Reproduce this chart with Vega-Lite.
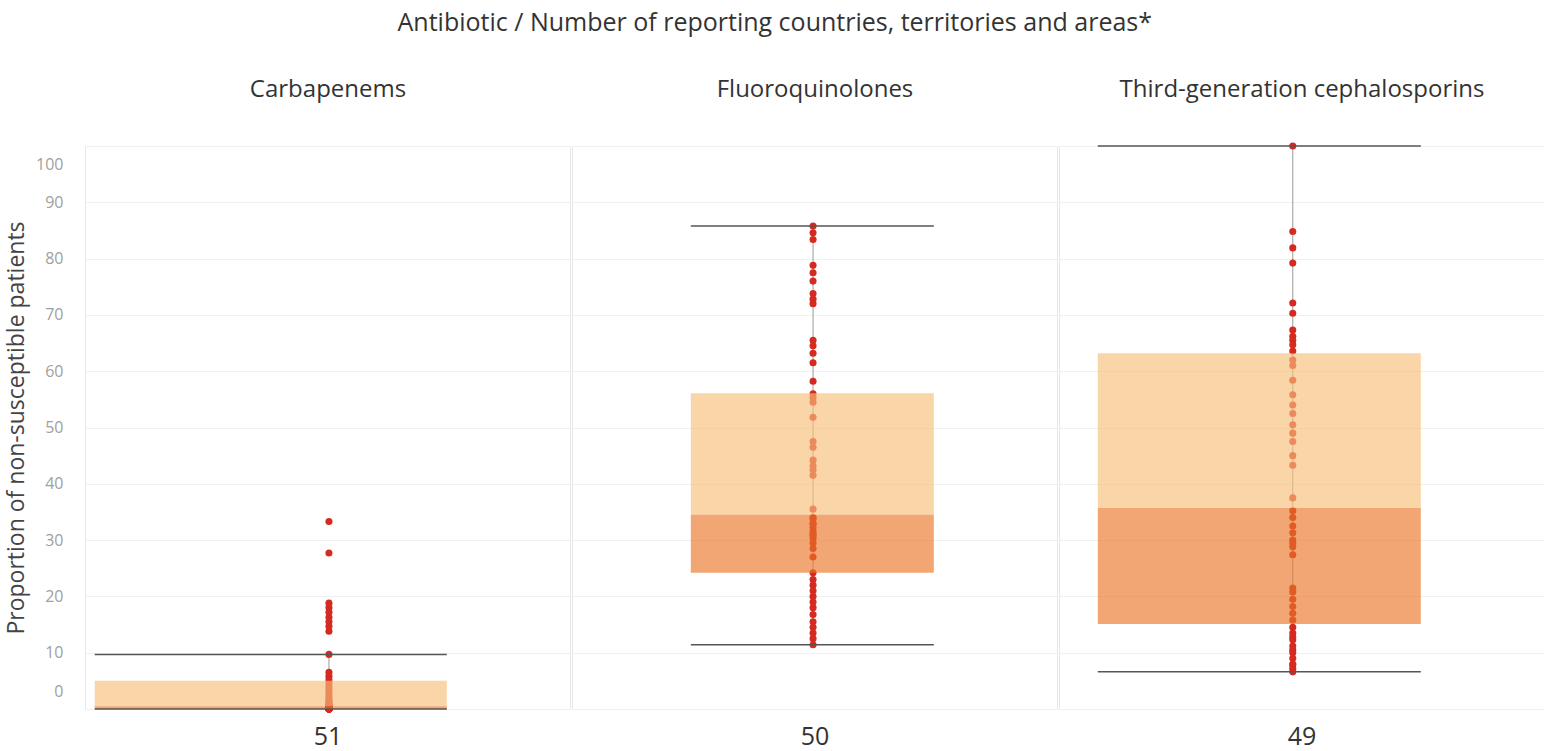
{
  "$schema": "https://vega.github.io/schema/vega-lite/v6.json",
  "background": "white",
  "padding": {"left": 5, "top": 10, "right": 0, "bottom": 0},
  "title": {"text": "Antibiotic / Number of reporting countries, territories and areas*", "fontSize": 25, "font": "Open Sans", "fontWeight": "normal", "color": "#333333", "anchor": "middle", "offset": 41},
  "spacing": 0,
  "config": {"view": {"stroke": "#e8e8e8"}, "font": "Open Sans"},
  "datasets": {
    "stats": [
      {"antibiotic": "Carbapenems", "lower": 0, "q1": 0, "median": 0.5, "q3": 5.0, "upper": 9.7},
      {"antibiotic": "Fluoroquinolones", "lower": 11.4, "q1": 24.2, "median": 34.5, "q3": 56.1, "upper": 85.8},
      {"antibiotic": "Third-generation cephalosporins", "lower": 6.6, "q1": 15.1, "median": 35.7, "q3": 63.2, "upper": 100}
    ],
    "points": [
      {"antibiotic": "Carbapenems", "value": 33.3}, {"antibiotic": "Carbapenems", "value": 27.7}, {"antibiotic": "Carbapenems", "value": 18.8}, {"antibiotic": "Carbapenems", "value": 18}, {"antibiotic": "Carbapenems", "value": 17.2}, {"antibiotic": "Carbapenems", "value": 16.3}, {"antibiotic": "Carbapenems", "value": 15.5}, {"antibiotic": "Carbapenems", "value": 14.7}, {"antibiotic": "Carbapenems", "value": 13.8}, {"antibiotic": "Carbapenems", "value": 9.7}, {"antibiotic": "Carbapenems", "value": 6.5}, {"antibiotic": "Carbapenems", "value": 5.8}, {"antibiotic": "Carbapenems", "value": 5.2}, {"antibiotic": "Carbapenems", "value": 4.6}, {"antibiotic": "Carbapenems", "value": 4}, {"antibiotic": "Carbapenems", "value": 3.5}, {"antibiotic": "Carbapenems", "value": 3}, {"antibiotic": "Carbapenems", "value": 2.5}, {"antibiotic": "Carbapenems", "value": 2}, {"antibiotic": "Carbapenems", "value": 1.6}, {"antibiotic": "Carbapenems", "value": 1.3}, {"antibiotic": "Carbapenems", "value": 1}, {"antibiotic": "Carbapenems", "value": 0.9}, {"antibiotic": "Carbapenems", "value": 0.8}, {"antibiotic": "Carbapenems", "value": 0.7}, {"antibiotic": "Carbapenems", "value": 0.6}, {"antibiotic": "Carbapenems", "value": 0.5}, {"antibiotic": "Carbapenems", "value": 0.4}, {"antibiotic": "Carbapenems", "value": 0.4}, {"antibiotic": "Carbapenems", "value": 0.3}, {"antibiotic": "Carbapenems", "value": 0.3}, {"antibiotic": "Carbapenems", "value": 0.3}, {"antibiotic": "Carbapenems", "value": 0.2}, {"antibiotic": "Carbapenems", "value": 0.2}, {"antibiotic": "Carbapenems", "value": 0.2}, {"antibiotic": "Carbapenems", "value": 0.2}, {"antibiotic": "Carbapenems", "value": 0.1}, {"antibiotic": "Carbapenems", "value": 0.1}, {"antibiotic": "Carbapenems", "value": 0.1}, {"antibiotic": "Carbapenems", "value": 0.1}, {"antibiotic": "Carbapenems", "value": 0.1}, {"antibiotic": "Carbapenems", "value": 0}, {"antibiotic": "Carbapenems", "value": 0}, {"antibiotic": "Carbapenems", "value": 0}, {"antibiotic": "Carbapenems", "value": 0}, {"antibiotic": "Carbapenems", "value": 0}, {"antibiotic": "Carbapenems", "value": 0}, {"antibiotic": "Carbapenems", "value": 0}, {"antibiotic": "Carbapenems", "value": 0}, {"antibiotic": "Carbapenems", "value": 0}, {"antibiotic": "Carbapenems", "value": 0},
      {"antibiotic": "Fluoroquinolones", "value": 85.8}, {"antibiotic": "Fluoroquinolones", "value": 84.6}, {"antibiotic": "Fluoroquinolones", "value": 83.4}, {"antibiotic": "Fluoroquinolones", "value": 78.8}, {"antibiotic": "Fluoroquinolones", "value": 77.5}, {"antibiotic": "Fluoroquinolones", "value": 76}, {"antibiotic": "Fluoroquinolones", "value": 73.8}, {"antibiotic": "Fluoroquinolones", "value": 72.8}, {"antibiotic": "Fluoroquinolones", "value": 72}, {"antibiotic": "Fluoroquinolones", "value": 65.5}, {"antibiotic": "Fluoroquinolones", "value": 64.5}, {"antibiotic": "Fluoroquinolones", "value": 63.2}, {"antibiotic": "Fluoroquinolones", "value": 61.5}, {"antibiotic": "Fluoroquinolones", "value": 58.2}, {"antibiotic": "Fluoroquinolones", "value": 56}, {"antibiotic": "Fluoroquinolones", "value": 55.3}, {"antibiotic": "Fluoroquinolones", "value": 54.5}, {"antibiotic": "Fluoroquinolones", "value": 51.8}, {"antibiotic": "Fluoroquinolones", "value": 47.5}, {"antibiotic": "Fluoroquinolones", "value": 46.5}, {"antibiotic": "Fluoroquinolones", "value": 44.2}, {"antibiotic": "Fluoroquinolones", "value": 43.2}, {"antibiotic": "Fluoroquinolones", "value": 42.5}, {"antibiotic": "Fluoroquinolones", "value": 41.5}, {"antibiotic": "Fluoroquinolones", "value": 35.5}, {"antibiotic": "Fluoroquinolones", "value": 34}, {"antibiotic": "Fluoroquinolones", "value": 33.8}, {"antibiotic": "Fluoroquinolones", "value": 33}, {"antibiotic": "Fluoroquinolones", "value": 32.8}, {"antibiotic": "Fluoroquinolones", "value": 32.2}, {"antibiotic": "Fluoroquinolones", "value": 31.5}, {"antibiotic": "Fluoroquinolones", "value": 31}, {"antibiotic": "Fluoroquinolones", "value": 30.8}, {"antibiotic": "Fluoroquinolones", "value": 30.3}, {"antibiotic": "Fluoroquinolones", "value": 29.5}, {"antibiotic": "Fluoroquinolones", "value": 28.5}, {"antibiotic": "Fluoroquinolones", "value": 27}, {"antibiotic": "Fluoroquinolones", "value": 24.2}, {"antibiotic": "Fluoroquinolones", "value": 23}, {"antibiotic": "Fluoroquinolones", "value": 22}, {"antibiotic": "Fluoroquinolones", "value": 21}, {"antibiotic": "Fluoroquinolones", "value": 20}, {"antibiotic": "Fluoroquinolones", "value": 19}, {"antibiotic": "Fluoroquinolones", "value": 18}, {"antibiotic": "Fluoroquinolones", "value": 16.8}, {"antibiotic": "Fluoroquinolones", "value": 15.5}, {"antibiotic": "Fluoroquinolones", "value": 14.5}, {"antibiotic": "Fluoroquinolones", "value": 13.5}, {"antibiotic": "Fluoroquinolones", "value": 12.5}, {"antibiotic": "Fluoroquinolones", "value": 11.4},
      {"antibiotic": "Third-generation cephalosporins", "value": 100}, {"antibiotic": "Third-generation cephalosporins", "value": 84.8}, {"antibiotic": "Third-generation cephalosporins", "value": 81.9}, {"antibiotic": "Third-generation cephalosporins", "value": 79.2}, {"antibiotic": "Third-generation cephalosporins", "value": 72.1}, {"antibiotic": "Third-generation cephalosporins", "value": 70.3}, {"antibiotic": "Third-generation cephalosporins", "value": 67.3}, {"antibiotic": "Third-generation cephalosporins", "value": 66.2}, {"antibiotic": "Third-generation cephalosporins", "value": 65.5}, {"antibiotic": "Third-generation cephalosporins", "value": 64.7}, {"antibiotic": "Third-generation cephalosporins", "value": 63.6}, {"antibiotic": "Third-generation cephalosporins", "value": 62}, {"antibiotic": "Third-generation cephalosporins", "value": 61}, {"antibiotic": "Third-generation cephalosporins", "value": 58.4}, {"antibiotic": "Third-generation cephalosporins", "value": 55.8}, {"antibiotic": "Third-generation cephalosporins", "value": 54}, {"antibiotic": "Third-generation cephalosporins", "value": 52.5}, {"antibiotic": "Third-generation cephalosporins", "value": 50.5}, {"antibiotic": "Third-generation cephalosporins", "value": 49}, {"antibiotic": "Third-generation cephalosporins", "value": 47.5}, {"antibiotic": "Third-generation cephalosporins", "value": 45}, {"antibiotic": "Third-generation cephalosporins", "value": 43.3}, {"antibiotic": "Third-generation cephalosporins", "value": 37.5}, {"antibiotic": "Third-generation cephalosporins", "value": 35.2}, {"antibiotic": "Third-generation cephalosporins", "value": 34}, {"antibiotic": "Third-generation cephalosporins", "value": 32.5}, {"antibiotic": "Third-generation cephalosporins", "value": 31.3}, {"antibiotic": "Third-generation cephalosporins", "value": 30}, {"antibiotic": "Third-generation cephalosporins", "value": 29.5}, {"antibiotic": "Third-generation cephalosporins", "value": 28.8}, {"antibiotic": "Third-generation cephalosporins", "value": 27.4}, {"antibiotic": "Third-generation cephalosporins", "value": 21.5}, {"antibiotic": "Third-generation cephalosporins", "value": 20.8}, {"antibiotic": "Third-generation cephalosporins", "value": 19.5}, {"antibiotic": "Third-generation cephalosporins", "value": 18.2}, {"antibiotic": "Third-generation cephalosporins", "value": 17}, {"antibiotic": "Third-generation cephalosporins", "value": 15.8}, {"antibiotic": "Third-generation cephalosporins", "value": 14.5}, {"antibiotic": "Third-generation cephalosporins", "value": 13.5}, {"antibiotic": "Third-generation cephalosporins", "value": 12.8}, {"antibiotic": "Third-generation cephalosporins", "value": 12.3}, {"antibiotic": "Third-generation cephalosporins", "value": 11.2}, {"antibiotic": "Third-generation cephalosporins", "value": 10.5}, {"antibiotic": "Third-generation cephalosporins", "value": 10}, {"antibiotic": "Third-generation cephalosporins", "value": 9}, {"antibiotic": "Third-generation cephalosporins", "value": 8}, {"antibiotic": "Third-generation cephalosporins", "value": 7.8}, {"antibiotic": "Third-generation cephalosporins", "value": 7.2}, {"antibiotic": "Third-generation cephalosporins", "value": 6.6}
    ]
  },
  "hconcat": [
    {
      "width": 485, "height": 563,
      "resolve": {"axis": {"x": "independent"}},
      "layer": [
        {"data": {"name": "stats"}, "transform": [{"filter": "datum.antibiotic === 'Carbapenems'"}],
         "mark": {"type": "rule", "color": "#9a9a9a", "strokeWidth": 1},
         "encoding": {
           "x": {"datum": 0.503, "type": "quantitative", "scale": {"domain": [0, 1]}, "axis": {"orient": "bottom", "title": "51", "labels": false, "ticks": false, "domain": false, "grid": false, "titleFontSize": 25, "titleColor": "#333333", "titleFontWeight": "normal", "titlePadding": 15}},
           "y": {"field": "lower", "type": "quantitative", "scale": {"domain": [0, 100]}, "axis": {"title": "Proportion of non-susceptible patients", "values": [0, 10, 20, 30, 40, 50, 60, 70, 80, 90, 100], "labelFlush": true, "labelFlushOffset": -10, "grid": true, "gridColor": "#f0f0f0", "domain": false, "ticks": false, "labelColor": "#a0a0a0", "labelFontSize": 16, "labelPadding": 22, "titleFontSize": 23, "titleColor": "#444444", "titleFontWeight": "normal", "titlePadding": 7}},
           "y2": {"field": "upper"}
         }},
        {"data": {"name": "points"}, "transform": [{"filter": "datum.antibiotic === 'Carbapenems'"}],
         "mark": {"type": "circle", "size": 50, "color": "#d42a20", "opacity": 1},
         "encoding": {"x": {"datum": 0.503, "type": "quantitative", "axis": {"orient": "top", "title": "Carbapenems", "labels": false, "ticks": false, "domain": false, "grid": false, "titleFontSize": 24, "titleColor": "#333333", "titleFontWeight": "normal", "titlePadding": 45}}, "y": {"field": "value", "type": "quantitative"}}},
        {"data": {"name": "stats"}, "transform": [{"filter": "datum.antibiotic === 'Carbapenems'"}],
         "mark": {"type": "rect", "color": "#f8be79", "opacity": 0.65},
         "encoding": {"x": {"datum": 0.02, "type": "quantitative", "axis": null}, "x2": {"datum": 0.746}, "y": {"field": "median", "type": "quantitative"}, "y2": {"field": "q3"}}},
        {"data": {"name": "stats"}, "transform": [{"filter": "datum.antibiotic === 'Carbapenems'"}],
         "mark": {"type": "rect", "color": "#ea7628", "opacity": 0.65},
         "encoding": {"x": {"datum": 0.02, "type": "quantitative", "axis": null}, "x2": {"datum": 0.746}, "y": {"field": "q1", "type": "quantitative"}, "y2": {"field": "median"}}},
        {"data": {"name": "stats"}, "transform": [{"filter": "datum.antibiotic === 'Carbapenems'"}, {"fold": ["lower", "upper"], "as": ["stat", "v"]}],
         "mark": {"type": "rule", "color": "#555555", "strokeWidth": 1.5},
         "encoding": {"x": {"datum": 0.02, "type": "quantitative", "axis": null}, "x2": {"datum": 0.746}, "y": {"field": "v", "type": "quantitative"}}}
      ]
    },
    {
      "width": 485, "height": 563,
      "resolve": {"axis": {"x": "independent"}},
      "layer": [
        {"data": {"name": "stats"}, "transform": [{"filter": "datum.antibiotic === 'Fluoroquinolones'"}],
         "mark": {"type": "rule", "color": "#9a9a9a", "strokeWidth": 1},
         "encoding": {
           "x": {"datum": 0.497, "type": "quantitative", "scale": {"domain": [0, 1]}, "axis": {"orient": "bottom", "title": "50", "labels": false, "ticks": false, "domain": false, "grid": false, "titleFontSize": 25, "titleColor": "#333333", "titleFontWeight": "normal", "titlePadding": 15}},
           "y": {"field": "lower", "type": "quantitative", "scale": {"domain": [0, 100]}, "axis": {"title": null, "values": [0, 10, 20, 30, 40, 50, 60, 70, 80, 90, 100], "labels": false, "grid": true, "gridColor": "#f0f0f0", "domain": false, "ticks": false}},
           "y2": {"field": "upper"}
         }},
        {"data": {"name": "points"}, "transform": [{"filter": "datum.antibiotic === 'Fluoroquinolones'"}],
         "mark": {"type": "circle", "size": 50, "color": "#d42a20", "opacity": 1},
         "encoding": {"x": {"datum": 0.497, "type": "quantitative", "axis": {"orient": "top", "title": "Fluoroquinolones", "labels": false, "ticks": false, "domain": false, "grid": false, "titleFontSize": 24, "titleColor": "#333333", "titleFontWeight": "normal", "titlePadding": 45}}, "y": {"field": "value", "type": "quantitative"}}},
        {"data": {"name": "stats"}, "transform": [{"filter": "datum.antibiotic === 'Fluoroquinolones'"}],
         "mark": {"type": "rect", "color": "#f8be79", "opacity": 0.65},
         "encoding": {"x": {"datum": 0.245, "type": "quantitative", "axis": null}, "x2": {"datum": 0.746}, "y": {"field": "median", "type": "quantitative"}, "y2": {"field": "q3"}}},
        {"data": {"name": "stats"}, "transform": [{"filter": "datum.antibiotic === 'Fluoroquinolones'"}],
         "mark": {"type": "rect", "color": "#ea7628", "opacity": 0.65},
         "encoding": {"x": {"datum": 0.245, "type": "quantitative", "axis": null}, "x2": {"datum": 0.746}, "y": {"field": "q1", "type": "quantitative"}, "y2": {"field": "median"}}},
        {"data": {"name": "stats"}, "transform": [{"filter": "datum.antibiotic === 'Fluoroquinolones'"}, {"fold": ["lower", "upper"], "as": ["stat", "v"]}],
         "mark": {"type": "rule", "color": "#555555", "strokeWidth": 1.5},
         "encoding": {"x": {"datum": 0.245, "type": "quantitative", "axis": null}, "x2": {"datum": 0.746}, "y": {"field": "v", "type": "quantitative"}}}
      ]
    },
    {
      "width": 485, "height": 563,
      "resolve": {"axis": {"x": "independent"}},
      "layer": [
        {"data": {"name": "stats"}, "transform": [{"filter": "datum.antibiotic === 'Third-generation cephalosporins'"}],
         "mark": {"type": "rule", "color": "#9a9a9a", "strokeWidth": 1},
         "encoding": {
           "x": {"datum": 0.482, "type": "quantitative", "scale": {"domain": [0, 1]}, "axis": {"orient": "bottom", "title": "49", "labels": false, "ticks": false, "domain": false, "grid": false, "titleFontSize": 25, "titleColor": "#333333", "titleFontWeight": "normal", "titlePadding": 15}},
           "y": {"field": "lower", "type": "quantitative", "scale": {"domain": [0, 100]}, "axis": {"title": null, "values": [0, 10, 20, 30, 40, 50, 60, 70, 80, 90, 100], "labels": false, "grid": true, "gridColor": "#f0f0f0", "domain": false, "ticks": false}},
           "y2": {"field": "upper"}
         }},
        {"data": {"name": "points"}, "transform": [{"filter": "datum.antibiotic === 'Third-generation cephalosporins'"}],
         "mark": {"type": "circle", "size": 50, "color": "#d42a20", "opacity": 1},
         "encoding": {"x": {"datum": 0.482, "type": "quantitative", "axis": {"orient": "top", "title": "Third-generation cephalosporins", "labels": false, "ticks": false, "domain": false, "grid": false, "titleFontSize": 24, "titleColor": "#333333", "titleFontWeight": "normal", "titlePadding": 45}}, "y": {"field": "value", "type": "quantitative"}}},
        {"data": {"name": "stats"}, "transform": [{"filter": "datum.antibiotic === 'Third-generation cephalosporins'"}],
         "mark": {"type": "rect", "color": "#f8be79", "opacity": 0.65},
         "encoding": {"x": {"datum": 0.08, "type": "quantitative", "axis": null}, "x2": {"datum": 0.746}, "y": {"field": "median", "type": "quantitative"}, "y2": {"field": "q3"}}},
        {"data": {"name": "stats"}, "transform": [{"filter": "datum.antibiotic === 'Third-generation cephalosporins'"}],
         "mark": {"type": "rect", "color": "#ea7628", "opacity": 0.65},
         "encoding": {"x": {"datum": 0.08, "type": "quantitative", "axis": null}, "x2": {"datum": 0.746}, "y": {"field": "q1", "type": "quantitative"}, "y2": {"field": "median"}}},
        {"data": {"name": "stats"}, "transform": [{"filter": "datum.antibiotic === 'Third-generation cephalosporins'"}, {"fold": ["lower", "upper"], "as": ["stat", "v"]}],
         "mark": {"type": "rule", "color": "#555555", "strokeWidth": 1.5},
         "encoding": {"x": {"datum": 0.08, "type": "quantitative", "axis": null}, "x2": {"datum": 0.746}, "y": {"field": "v", "type": "quantitative"}}}
      ]
    }
  ]
}
